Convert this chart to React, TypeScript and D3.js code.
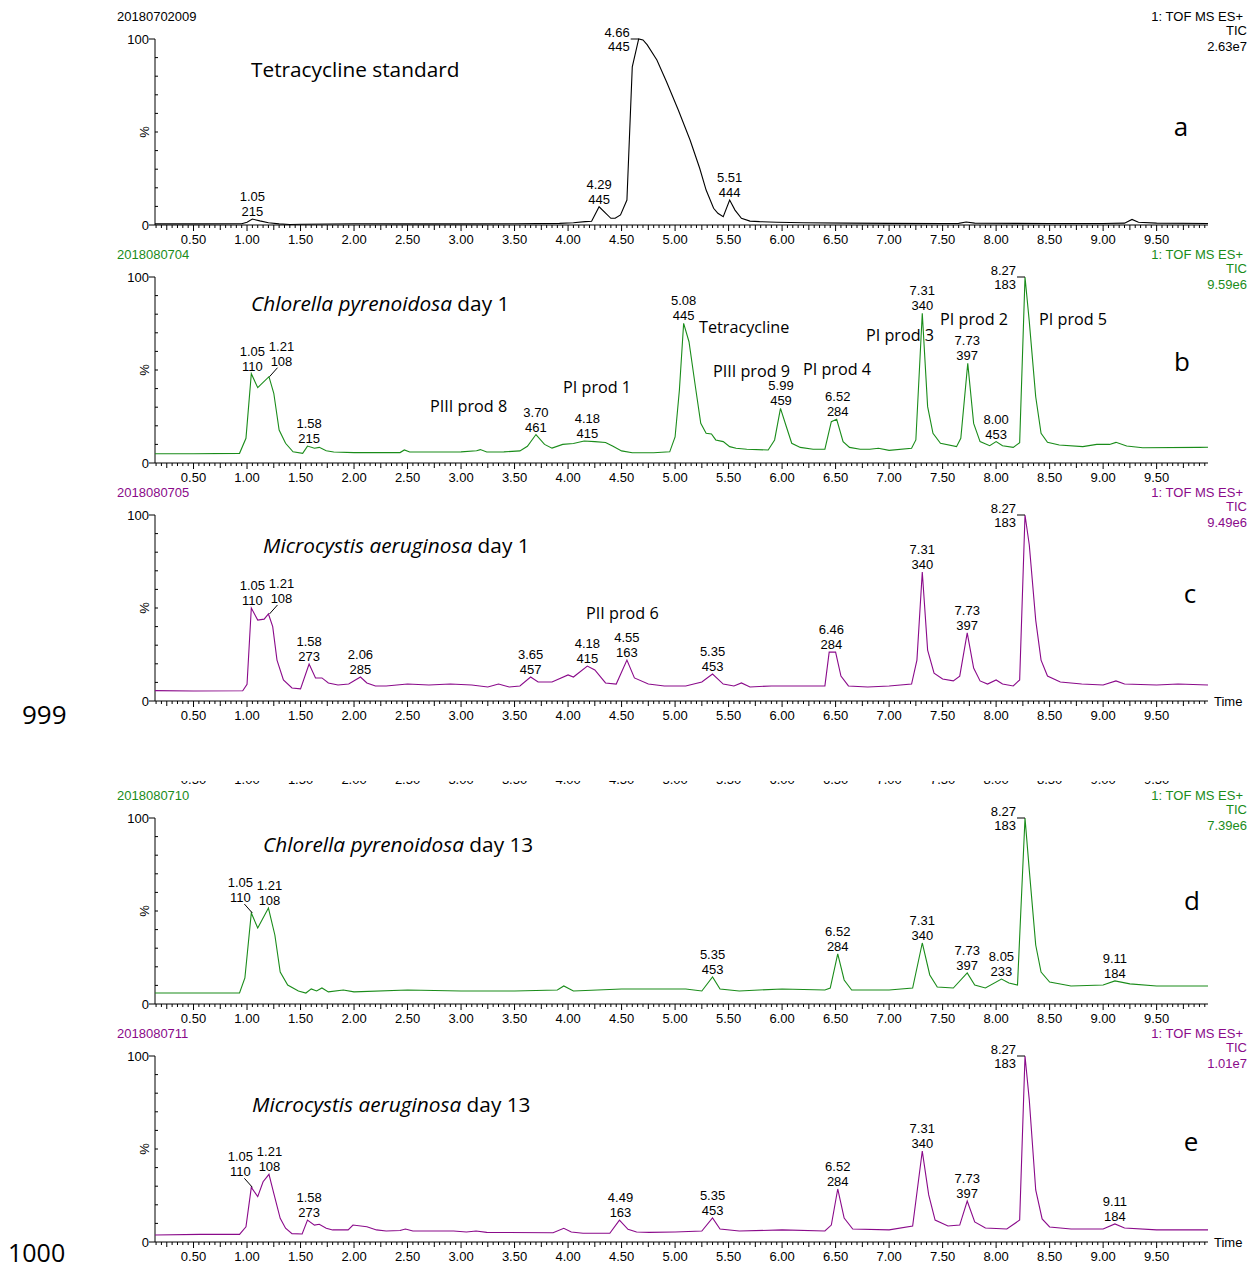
import React from "react";
import * as d3 from "d3";

// ---------- DATA ----------
const headerIds = ["20180702009", "2018080704", "2018080705", "2018080710", "2018080711"];
const intensities = ["2.63e7", "9.59e6", "9.49e6", "7.39e6", "1.01e7"];
const panelLetters = ["a", "b", "c", "d", "e"];
const titleItalic = ["", "Chlorella pyrenoidosa", "Microcystis aeruginosa", "Chlorella pyrenoidosa", "Microcystis aeruginosa"];
const titlePlain = ["Tetracycline standard", " day 1", " day 1", " day 13", " day 13"];
const pageNumbers = ["999", "1000"];
const xTickLabels = [0.5, 1, 1.5, 2, 2.5, 3, 3.5, 4, 4.5, 5, 5.5, 6, 6.5, 7, 7.5, 8, 8.5, 9, 9.5];

// [time (min), intensity %]
const traceA: [number, number][] = [
  [0.14, 0.6], [0.5, 0.6], [0.95, 0.7], [1.0, 1.5], [1.05, 3.2], [1.12, 2.2], [1.2, 1.2], [1.3, 0.6], [1.4, 0.3],
  [1.5, 0.4], [2.0, 0.7], [2.5, 0.6], [3.0, 0.6], [3.5, 0.7], [3.92, 0.9], [4.05, 1.2], [4.16, 1.8], [4.22, 2.0],
  [4.29, 9.8], [4.4, 3.6], [4.44, 3.6], [4.49, 5.4], [4.55, 13.4], [4.6, 85], [4.66, 100], [4.7, 99.5], [4.74, 96.8],
  [4.83, 88.7], [4.92, 77], [5.03, 61.8], [5.14, 45.7], [5.23, 30.5], [5.29, 18.8], [5.36, 9], [5.4, 6.3], [5.45, 4.5],
  [5.51, 13.4], [5.56, 8], [5.62, 3.6], [5.7, 2.1], [5.79, 1.8], [5.95, 1.5], [6.2, 1.2], [6.6, 1.0], [7.0, 0.9],
  [7.5, 0.8], [7.65, 0.9], [7.72, 1.6], [7.8, 1.0], [8.5, 0.8], [9.0, 0.8], [9.2, 1.0], [9.27, 3.0], [9.33, 1.5],
  [9.5, 1.0], [9.98, 0.8],
];
const traceB: [number, number][] = [
  [0.14, 5.0], [0.5, 5.0], [0.93, 5.2], [0.99, 13.3], [1.04, 48], [1.1, 40.5], [1.205, 46.4], [1.25, 37.5], [1.3, 17.7],
  [1.36, 10.6], [1.43, 6], [1.52, 5.2], [1.565, 9.1], [1.63, 7.9], [1.675, 8.4], [1.74, 6.6], [1.81, 5.9], [2.0, 5.6],
  [2.43, 5.6], [2.47, 7.0], [2.52, 5.9], [3.0, 6.0], [3.145, 6.6], [3.18, 7.2], [3.24, 5.9], [3.4, 6.0], [3.55, 6.5],
  [3.62, 9], [3.7, 15.3], [3.78, 10], [3.85, 8], [3.95, 10], [4.05, 10.5], [4.15, 11.8], [4.25, 11.5], [4.35, 11],
  [4.42, 9], [4.5, 6.5], [4.6, 5.5], [4.8, 5.5], [4.95, 6], [5.0, 14], [5.04, 39], [5.08, 75.1], [5.13, 65.2],
  [5.19, 41], [5.24, 21.3], [5.29, 16], [5.34, 15.6], [5.38, 12.4], [5.45, 11.5], [5.51, 8.8], [5.57, 7.9],
  [5.67, 7.4], [5.87, 7], [5.93, 12.4], [5.985, 29.4], [6.04, 19.5], [6.09, 10.6], [6.17, 8.4], [6.29, 7.4],
  [6.4, 7.4], [6.46, 22.2], [6.51, 23.5], [6.57, 11.5], [6.63, 8.4], [6.73, 7.4], [6.82, 7.4], [6.9, 7.9], [7.0, 6.8],
  [7.21, 7.9], [7.25, 12.4], [7.31, 80.5], [7.36, 30.3], [7.41, 16], [7.48, 10.6], [7.63, 8.8], [7.67, 13.3],
  [7.735, 53.6], [7.79, 21.3], [7.85, 11.5], [7.94, 9.3], [8.0, 11.5], [8.06, 9.3], [8.16, 8.4], [8.22, 10.9],
  [8.27, 100], [8.31, 76], [8.37, 35.6], [8.42, 16], [8.48, 11.1], [8.59, 9.7], [8.81, 8.8], [8.94, 10], [9.06, 10],
  [9.12, 11.1], [9.22, 9.1], [9.37, 8.2], [9.9, 8.4], [9.98, 8.5],
];
const traceC: [number, number][] = [
  [0.14, 5.6], [0.5, 5.4], [0.96, 5.5], [1.0, 9], [1.04, 50], [1.1, 43.5], [1.16, 44], [1.2, 46.8], [1.24, 40],
  [1.28, 22], [1.34, 11.3], [1.42, 7], [1.5, 6.5], [1.58, 19.9], [1.64, 12.4], [1.7, 12.4], [1.76, 9.7], [1.85, 8.6],
  [1.95, 9.1], [2.06, 12.9], [2.12, 9.7], [2.2, 8.1], [2.3, 8.1], [2.5, 9.1], [2.7, 8.6], [2.9, 9.1], [3.1, 8.6],
  [3.25, 7.5], [3.35, 9.1], [3.45, 7.5], [3.55, 8.1], [3.65, 12.9], [3.72, 10.2], [3.85, 10.2], [4.0, 14], [4.05, 12.9],
  [4.18, 18.8], [4.25, 16.7], [4.35, 9.7], [4.45, 9.1], [4.55, 22], [4.62, 12.4], [4.75, 9.1], [4.9, 8.1], [5.1, 8.1],
  [5.25, 10.2], [5.35, 14.5], [5.45, 9.1], [5.55, 8.1], [5.62, 9.7], [5.7, 7.5], [5.9, 8.1], [6.1, 8.1], [6.3, 8.1],
  [6.4, 8.1], [6.44, 26.3], [6.5, 26.3], [6.55, 13.4], [6.62, 8.1], [6.8, 7.5], [7.0, 8.1], [7.21, 9.1], [7.26, 22],
  [7.31, 69.4], [7.36, 27.4], [7.42, 15], [7.5, 11.8], [7.6, 10.8], [7.66, 13.4], [7.73, 36.6], [7.79, 17.7],
  [7.85, 10.8], [7.92, 9.1], [8.0, 11.3], [8.06, 9.1], [8.16, 8.1], [8.22, 11.3], [8.27, 100], [8.31, 83.9],
  [8.37, 43.5], [8.42, 22], [8.48, 13.4], [8.6, 10.2], [8.8, 9.1], [9.0, 8.6], [9.12, 10.8], [9.2, 9.1], [9.5, 8.6],
  [9.7, 9.1], [9.98, 8.6],
];
const traceD: [number, number][] = [
  [0.14, 5.9], [0.5, 5.9], [0.93, 5.9], [0.98, 14], [1.04, 48.9], [1.1, 40.9], [1.2, 51.6], [1.26, 37.1], [1.31, 17.2],
  [1.38, 10.2], [1.48, 7], [1.55, 5.9], [1.6, 8.1], [1.65, 7], [1.7, 8.6], [1.76, 6.5], [1.9, 7.5], [2.0, 6.5],
  [2.5, 7.5], [3.0, 7], [3.5, 7], [3.9, 7.5], [3.96, 9.7], [4.05, 7], [4.5, 8.1], [5.1, 8.1], [5.25, 7], [5.35, 14.5],
  [5.42, 8.1], [5.6, 7], [6.0, 8.1], [6.4, 7.5], [6.45, 8.6], [6.52, 26.9], [6.58, 12.9], [6.65, 7.5], [7.0, 7.5],
  [7.22, 8.6], [7.31, 32.8], [7.38, 15.6], [7.45, 9.1], [7.6, 8.6], [7.73, 16.7], [7.8, 10.2], [7.9, 8.6],
  [8.05, 13.4], [8.12, 11.3], [8.2, 10.2], [8.27, 100], [8.31, 72], [8.37, 31.7], [8.42, 17.2], [8.5, 11.8],
  [8.7, 9.7], [9.0, 10.2], [9.11, 12.4], [9.25, 10.8], [9.5, 9.7], [9.98, 9.7],
];
const traceE: [number, number][] = [
  [0.14, 3.8], [0.56, 4.1], [0.93, 4.1], [0.99, 8.2], [1.04, 29.4], [1.1, 24.4], [1.15, 32.4], [1.205, 36.4],
  [1.25, 26.2], [1.31, 12.7], [1.36, 7.4], [1.42, 4.5], [1.515, 4.3], [1.565, 11.8], [1.63, 9.1], [1.675, 9.5],
  [1.74, 7.4], [1.8, 6.5], [1.945, 6.5], [1.99, 9.1], [2.12, 8.2], [2.21, 6.5], [2.3, 5.9], [2.43, 6.2], [2.48, 7],
  [2.55, 5.9], [2.93, 5.9], [3.05, 5.4], [3.14, 5.9], [3.24, 5.2], [3.86, 5], [3.96, 7.4], [4.03, 5.4], [4.14, 4.7],
  [4.39, 4.7], [4.48, 11.8], [4.56, 6.8], [4.64, 5.4], [4.76, 5.2], [5.0, 5.4], [5.25, 5.9], [5.35, 12.9], [5.42, 7],
  [5.6, 5.9], [6.0, 6.5], [6.4, 5.9], [6.46, 9.1], [6.52, 28.5], [6.58, 12.9], [6.66, 7], [7.0, 6.5], [7.22, 8.6],
  [7.31, 48.9], [7.37, 25.3], [7.43, 11.8], [7.55, 8.6], [7.66, 9.1], [7.73, 22], [7.8, 10.8], [7.9, 7.5], [8.1, 7],
  [8.22, 11.8], [8.27, 100], [8.31, 76.3], [8.37, 28], [8.43, 12.4], [8.5, 8.1], [8.7, 7], [9.0, 7], [9.11, 9.7],
  [9.2, 7.5], [9.5, 6.5], [9.98, 6.5],
];

// peak labels: [retention time, m/z, placement]
type PeakLabel = [number, string, string];
const peaksA: PeakLabel[] = [[1.05, "215", "above"], [4.29, "445", "above"], [4.66, "445", "topLeft"], [5.51, "444", "above"]];
const peaksB: PeakLabel[] = [
  [1.05, "110", "above"], [1.21, "108", "right"], [1.58, "215", "above"], [3.7, "461", "above"], [4.18, "415", "above"],
  [5.08, "445", "above"], [5.99, "459", "above"], [6.52, "284", "above"], [7.31, "340", "above"], [7.73, "397", "above"],
  [8.0, "453", "above"], [8.27, "183", "topLeft"],
];
const peaksC: PeakLabel[] = [
  [1.05, "110", "above"], [1.21, "108", "right"], [1.58, "273", "above"], [2.06, "285", "above"], [3.65, "457", "above"],
  [4.18, "415", "above"], [4.55, "163", "above"], [5.35, "453", "above"], [6.46, "284", "above"], [7.31, "340", "above"],
  [7.73, "397", "above"], [8.27, "183", "topLeft"],
];
const peaksD: PeakLabel[] = [
  [1.05, "110", "left"], [1.21, "108", "above"], [5.35, "453", "above"], [6.52, "284", "above"], [7.31, "340", "above"],
  [7.73, "397", "above"], [8.05, "233", "above"], [8.27, "183", "topLeft"], [9.11, "184", "above"],
];
const peaksE: PeakLabel[] = [
  [1.05, "110", "left"], [1.21, "108", "above"], [1.58, "273", "above"], [4.49, "163", "above"], [5.35, "453", "above"],
  [6.52, "284", "above"], [7.31, "340", "above"], [7.73, "397", "above"], [8.27, "183", "topLeft"], [9.11, "184", "above"],
];

// product annotations (panel b / c): [text, time, %]
type Note = [string, number, number];
const notesB: Note[] = [
  ["PIII prod 8", 2.71, 27.4], ["PI prod 1", 3.953, 37.6], ["Tetracycline", 5.224, 69.9], ["PIII prod 9", 5.354, 46.2],
  ["PI prod 4", 6.195, 47.3], ["PI prod 3", 6.784, 65.6], ["PI prod 2", 7.476, 74.2], ["PI prod 5", 8.401, 74.2],
];
const notesC: Note[] = [["PII prod 6", 4.168, 44.1]];

const traces = [traceA, traceB, traceC, traceD, traceE];
const peakSets = [peaksA, peaksB, peaksC, peaksD, peaksE];
const noteSets: Note[][] = [[], notesB, notesC, [], []];

// ---------- LAYOUT ----------
const W = 1252, H = 1267;
const GREEN = "#1a8c1a";
const PURPLE = "#8a0a8a";
const colors = ["#000000", GREEN, PURPLE, GREEN, PURPLE];
const panelTops = [39, 277, 515, 818, 1056];
const panelH = 186;
const titleX = [251, 251, 263, 263, 252];
const titleDy = [38, 34, 38, 34, 56];
const letterX = [1181, 1182, 1190, 1192, 1191];
const letterDy = [97, 94, 88, 92, 95];
const showTime = [false, false, true, false, true];
const ARIAL = "'Liberation Sans', Arial, sans-serif";
const CAL = "'Open Sans', 'Noto Sans', sans-serif";

const x = d3.scaleLinear().domain([0.14, 9.98]).range([155, 1208]);

function peakPct(trace: [number, number][], t: number) {
  const near = trace.filter((d) => Math.abs(d[0] - t) <= 0.035);
  if (near.length) return d3.max(near, (d) => d[1]) as number;
  const i = d3.bisector((d: [number, number]) => d[0]).left(trace, t);
  const a = trace[i - 1], b = trace[i];
  return a[1] + ((t - a[0]) / (b[0] - a[0])) * (b[1] - a[1]);
}

function XAxis({ y0 }: { y0: number }) {
  const ticks = d3.range(3, 200);
  return (
    <g>
      <line x1={149} x2={1208} y1={y0} y2={y0} stroke="#000" strokeWidth={1} />
      {ticks.map((i) => {
        const t = i * 0.05;
        const len = i % 10 === 0 ? 6 : i % 5 === 0 ? 5 : 3;
        return <line key={i} x1={x(t)} x2={x(t)} y1={y0} y2={y0 + len} stroke="#000" strokeWidth={1} />;
      })}
      {xTickLabels.map((v) => (
        <text key={v} x={x(v)} y={y0 + 19} textAnchor="middle" fontSize={13} fontFamily={ARIAL} fill="#000">
          {v.toFixed(2)}
        </text>
      ))}
    </g>
  );
}

function Panel({ k }: { k: number }) {
  const top = panelTops[k];
  const zero = top + panelH;
  const y = d3.scaleLinear().domain([0, 100]).range([zero, top]);
  const color = colors[k];
  const line = d3
    .line<[number, number]>()
    .x((d) => x(d[0]))
    .y((d) => y(d[1]));
  const trace = traces[k];
  return (
    <g>
      <text x={117} y={top - 18} fontSize={13} fontFamily={ARIAL} fill={color}>{headerIds[k]}</text>
      <text x={1243} y={top - 18} fontSize={13} fontFamily={ARIAL} fill={color} textAnchor="end">1: TOF MS ES+</text>
      <text x={1247} y={top - 4} fontSize={13} fontFamily={ARIAL} fill={color} textAnchor="end">TIC</text>
      <text x={1247} y={top + 12} fontSize={13} fontFamily={ARIAL} fill={color} textAnchor="end">{intensities[k]}</text>
      <line x1={155} x2={155} y1={top} y2={zero} stroke="#000" />
      <line x1={149} x2={155} y1={top} y2={top} stroke="#000" />
      {d3.range(10, 100, 10).map((v) => (
        <line key={v} x1={155} x2={158} y1={y(v)} y2={y(v)} stroke="#000" />
      ))}
      <text x={149} y={top + 5} fontSize={13} fontFamily={ARIAL} textAnchor="end">100</text>
      <text x={149} y={zero + 5} fontSize={13} fontFamily={ARIAL} textAnchor="end">0</text>
      <text transform={`translate(149,${y(50)}) rotate(-90)`} fontSize={13} fontFamily={ARIAL} textAnchor="middle">%</text>
      <XAxis y0={zero} />
      {showTime[k] && (
        <text x={1214} y={zero + 5} fontSize={13} fontFamily={ARIAL}>Time</text>
      )}
      <path d={line(trace) || ""} fill="none" stroke={color} strokeWidth={1.1} />
      {peakSets[k].map(([rt, mz, place]) => {
        const px = x(rt);
        const py = y(peakPct(trace, rt));
        const lbl = rt.toFixed(2);
        if (place === "topLeft") {
          return (
            <g key={rt} fontSize={13} fontFamily={ARIAL}>
              <line x1={px - 8} x2={px} y1={py} y2={py} stroke="#000" />
              <text x={px - 9} y={py - 2} textAnchor="end">{lbl}</text>
              <text x={px - 9} y={py + 12} textAnchor="end">{mz}</text>
            </g>
          );
        }
        if (place === "right" || place === "left") {
          const s = place === "right" ? 1 : -1;
          return (
            <g key={rt} fontSize={13} fontFamily={ARIAL}>
              <line x1={px + s * 8} x2={px} y1={py - 9} y2={py} stroke="#000" />
              <text x={px + s * 12} y={py - 26} textAnchor="middle">{lbl}</text>
              <text x={px + s * 12} y={py - 11} textAnchor="middle">{mz}</text>
            </g>
          );
        }
        return (
          <g key={rt} fontSize={13} fontFamily={ARIAL}>
            <text x={px} y={py - 18} textAnchor="middle">{lbl}</text>
            <text x={px} y={py - 3} textAnchor="middle">{mz}</text>
          </g>
        );
      })}
      {noteSets[k].map(([txt, t, p]) => (
        <text key={txt} x={x(t)} y={y(p)} fontSize={16.2} fontFamily={CAL} fill="#000">{txt}</text>
      ))}
      <text x={titleX[k]} y={top + titleDy[k]} fontSize={20.8} fontFamily={CAL} fill="#000">
        {titleItalic[k] && <tspan fontStyle="italic">{titleItalic[k]}</tspan>}
        <tspan>{titlePlain[k]}</tspan>
      </text>
      <text x={letterX[k]} y={top + letterDy[k]} fontSize={26} fontFamily={CAL} textAnchor="middle">{panelLetters[k]}</text>
    </g>
  );
}

export default function App() {
  return (
    <svg width={W} height={H} style={{ position: "absolute", left: 0, top: 0, background: "#fff" }}>
      <rect width={W} height={H} fill="#fff" />
      {[0, 1, 2, 3, 4].map((k) => <Panel key={k} k={k} />)}
      <defs>
        <clipPath id="cutClip">
          <rect x={0} y={781} width={W} height={4} />
        </clipPath>
      </defs>
      <g clipPath="url(#cutClip)">
        {xTickLabels.map((v) => (
          <text key={v} x={x(v)} y={784} textAnchor="middle" fontSize={13} fontFamily={ARIAL}>{v.toFixed(2)}</text>
        ))}
      </g>
      <text x={22} y={724} fontSize={26} fontFamily={CAL}>{pageNumbers[0]}</text>
      <text x={8} y={1262} fontSize={25} fontFamily={CAL}>{pageNumbers[1]}</text>
    </svg>
  );
}
